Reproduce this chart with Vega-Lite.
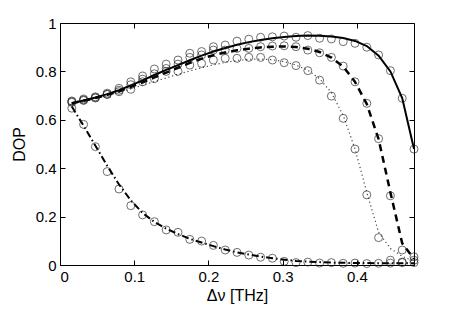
{
  "$schema": "https://vega.github.io/schema/vega-lite/v6.json",
  "width": 354,
  "height": 242,
  "autosize": "none",
  "padding": {"left": 60, "top": 23, "right": 43, "bottom": 46},
  "background": "white",
  "config": {
    "view": {"stroke": "black", "strokeWidth": 1},
    "font": "Liberation Sans",
    "axis": {"labelFont": "Liberation Sans", "titleFont": "Liberation Sans", "labelColor": "black", "titleColor": "black", "domainColor": "black", "tickColor": "black", "grid": false, "titleFontWeight": "normal"}
  },
  "datasets": {
    "solid": [
      {"x": 0.0159, "theory": 0.668, "sim": 0.678},
      {"x": 0.0318, "theory": 0.680, "sim": 0.686},
      {"x": 0.0477, "theory": 0.692, "sim": 0.695},
      {"x": 0.0636, "theory": 0.706, "sim": 0.710},
      {"x": 0.0795, "theory": 0.722, "sim": 0.730},
      {"x": 0.0954, "theory": 0.742, "sim": 0.757},
      {"x": 0.1113, "theory": 0.763, "sim": 0.781},
      {"x": 0.1272, "theory": 0.785, "sim": 0.810},
      {"x": 0.1431, "theory": 0.806, "sim": 0.830},
      {"x": 0.159, "theory": 0.826, "sim": 0.847},
      {"x": 0.1749, "theory": 0.846, "sim": 0.875},
      {"x": 0.1908, "theory": 0.865, "sim": 0.882},
      {"x": 0.2067, "theory": 0.882, "sim": 0.902},
      {"x": 0.2226, "theory": 0.897, "sim": 0.909},
      {"x": 0.2385, "theory": 0.910, "sim": 0.925},
      {"x": 0.2544, "theory": 0.921, "sim": 0.933},
      {"x": 0.2703, "theory": 0.930, "sim": 0.941},
      {"x": 0.2862, "theory": 0.937, "sim": 0.943},
      {"x": 0.3021, "theory": 0.942, "sim": 0.946},
      {"x": 0.318, "theory": 0.946, "sim": 0.941},
      {"x": 0.3339, "theory": 0.948, "sim": 0.948},
      {"x": 0.3498, "theory": 0.947, "sim": 0.937},
      {"x": 0.3657, "theory": 0.944, "sim": 0.934},
      {"x": 0.3816, "theory": 0.938, "sim": 0.923},
      {"x": 0.3975, "theory": 0.926, "sim": 0.916},
      {"x": 0.4134, "theory": 0.905, "sim": 0.900},
      {"x": 0.4293, "theory": 0.865, "sim": 0.868},
      {"x": 0.4452, "theory": 0.800, "sim": 0.803},
      {"x": 0.4611, "theory": 0.690, "sim": 0.689},
      {"x": 0.477, "theory": 0.479, "sim": 0.479}
    ],
    "dashed": [
      {"x": 0.0159, "theory": 0.668, "sim": 0.675},
      {"x": 0.0318, "theory": 0.679, "sim": 0.682},
      {"x": 0.0477, "theory": 0.690, "sim": 0.692},
      {"x": 0.0636, "theory": 0.703, "sim": 0.705},
      {"x": 0.0795, "theory": 0.718, "sim": 0.722},
      {"x": 0.0954, "theory": 0.736, "sim": 0.745},
      {"x": 0.1113, "theory": 0.755, "sim": 0.768},
      {"x": 0.1272, "theory": 0.775, "sim": 0.790},
      {"x": 0.1431, "theory": 0.795, "sim": 0.812},
      {"x": 0.159, "theory": 0.815, "sim": 0.830},
      {"x": 0.1749, "theory": 0.835, "sim": 0.858},
      {"x": 0.1908, "theory": 0.853, "sim": 0.868},
      {"x": 0.2067, "theory": 0.867, "sim": 0.888},
      {"x": 0.2226, "theory": 0.878, "sim": 0.888},
      {"x": 0.2385, "theory": 0.887, "sim": 0.895},
      {"x": 0.2544, "theory": 0.894, "sim": 0.895},
      {"x": 0.2703, "theory": 0.899, "sim": 0.902},
      {"x": 0.2862, "theory": 0.902, "sim": 0.905},
      {"x": 0.3021, "theory": 0.903, "sim": 0.906},
      {"x": 0.318, "theory": 0.901, "sim": 0.902},
      {"x": 0.3339, "theory": 0.894, "sim": 0.888},
      {"x": 0.3498, "theory": 0.880, "sim": 0.877},
      {"x": 0.3657, "theory": 0.857, "sim": 0.858},
      {"x": 0.3816, "theory": 0.820, "sim": 0.822},
      {"x": 0.3975, "theory": 0.757, "sim": 0.757},
      {"x": 0.4134, "theory": 0.665, "sim": 0.668},
      {"x": 0.4293, "theory": 0.520, "sim": 0.522},
      {"x": 0.4452, "theory": 0.300, "sim": 0.286},
      {"x": 0.4611, "theory": 0.090, "sim": 0.062},
      {"x": 0.477, "theory": 0.025, "sim": 0.034}
    ],
    "dotted": [
      {"x": 0.0159, "theory": 0.668, "sim": 0.672},
      {"x": 0.0318, "theory": 0.678, "sim": 0.680},
      {"x": 0.0477, "theory": 0.689, "sim": 0.690},
      {"x": 0.0636, "theory": 0.701, "sim": 0.705},
      {"x": 0.0795, "theory": 0.714, "sim": 0.716},
      {"x": 0.0954, "theory": 0.728, "sim": 0.726},
      {"x": 0.1113, "theory": 0.743, "sim": 0.757},
      {"x": 0.1272, "theory": 0.758, "sim": 0.770},
      {"x": 0.1431, "theory": 0.773, "sim": 0.800},
      {"x": 0.159, "theory": 0.788, "sim": 0.800},
      {"x": 0.1749, "theory": 0.802, "sim": 0.826},
      {"x": 0.1908, "theory": 0.815, "sim": 0.833},
      {"x": 0.2067, "theory": 0.827, "sim": 0.847},
      {"x": 0.2226, "theory": 0.837, "sim": 0.854},
      {"x": 0.2385, "theory": 0.845, "sim": 0.854},
      {"x": 0.2544, "theory": 0.850, "sim": 0.858},
      {"x": 0.2703, "theory": 0.851, "sim": 0.858},
      {"x": 0.2862, "theory": 0.848, "sim": 0.847},
      {"x": 0.3021, "theory": 0.840, "sim": 0.836},
      {"x": 0.318, "theory": 0.826, "sim": 0.824},
      {"x": 0.3339, "theory": 0.805, "sim": 0.803},
      {"x": 0.3498, "theory": 0.770, "sim": 0.764},
      {"x": 0.3657, "theory": 0.712, "sim": 0.698},
      {"x": 0.3816, "theory": 0.618, "sim": 0.606},
      {"x": 0.3975, "theory": 0.480, "sim": 0.479},
      {"x": 0.4134, "theory": 0.300, "sim": 0.290},
      {"x": 0.4293, "theory": 0.135, "sim": 0.113},
      {"x": 0.4452, "theory": 0.068, "sim": 0.020},
      {"x": 0.4611, "theory": 0.036, "sim": 0.012},
      {"x": 0.477, "theory": 0.015, "sim": 0.020}
    ],
    "dashdot": [
      {"x": 0.0159, "theory": 0.655, "sim": 0.648},
      {"x": 0.0318, "theory": 0.575, "sim": 0.581},
      {"x": 0.0477, "theory": 0.493, "sim": 0.489},
      {"x": 0.0636, "theory": 0.410, "sim": 0.386},
      {"x": 0.0795, "theory": 0.333, "sim": 0.314},
      {"x": 0.0954, "theory": 0.267, "sim": 0.245},
      {"x": 0.1113, "theory": 0.215, "sim": 0.207},
      {"x": 0.1272, "theory": 0.178, "sim": 0.179},
      {"x": 0.1431, "theory": 0.150, "sim": 0.145},
      {"x": 0.159, "theory": 0.128, "sim": 0.135},
      {"x": 0.1749, "theory": 0.108, "sim": 0.106},
      {"x": 0.1908, "theory": 0.093, "sim": 0.099},
      {"x": 0.2067, "theory": 0.078, "sim": 0.081},
      {"x": 0.2226, "theory": 0.064, "sim": 0.062},
      {"x": 0.2385, "theory": 0.052, "sim": 0.052},
      {"x": 0.2544, "theory": 0.043, "sim": 0.041},
      {"x": 0.2703, "theory": 0.035, "sim": 0.032},
      {"x": 0.2862, "theory": 0.028, "sim": 0.028},
      {"x": 0.3021, "theory": 0.022, "sim": 0.015},
      {"x": 0.318, "theory": 0.017, "sim": 0.010},
      {"x": 0.3339, "theory": 0.014, "sim": 0.012},
      {"x": 0.3498, "theory": 0.012, "sim": 0.008},
      {"x": 0.3657, "theory": 0.010, "sim": 0.010},
      {"x": 0.3816, "theory": 0.009, "sim": 0.007},
      {"x": 0.3975, "theory": 0.008, "sim": 0.008},
      {"x": 0.4134, "theory": 0.008, "sim": 0.006},
      {"x": 0.4293, "theory": 0.007, "sim": 0.007},
      {"x": 0.4452, "theory": 0.007, "sim": 0.008},
      {"x": 0.4611, "theory": 0.007, "sim": 0.010},
      {"x": 0.477, "theory": 0.007, "sim": 0.010}
    ]
  },
  "layer": [
    {
      "data": {"name": "dashdot"},
      "mark": {"type": "line", "color": "black", "strokeWidth": 2, "strokeDash": [7, 3, 1.5, 3], "clip": true},
      "encoding": {
        "x": {"field": "x", "type": "quantitative", "scale": {"domain": [0, 0.477], "nice": false, "zero": false},
          "axis": {"orient": "bottom", "values": [0, 0.1, 0.2, 0.3, 0.4], "format": "~g", "tickSize": -5, "labelPadding": 9, "labelFontSize": 15, "title": "Δν [THz]", "titleFontSize": 16, "titlePadding": 3, "domain": false}},
        "y": {"field": "theory", "type": "quantitative", "scale": {"domain": [0, 1], "nice": false},
          "axis": {"orient": "left", "values": [0, 0.2, 0.4, 0.6, 0.8, 1], "format": "~g", "tickSize": -5, "labelPadding": 9, "labelFontSize": 15, "title": "DOP", "titleFontSize": 16, "titlePadding": 8, "domain": false}}
      }
    },
    {
      "data": {"name": "dashdot"},
      "mark": {"type": "point", "shape": "circle", "filled": false, "stroke": "#1a1a1a", "strokeWidth": 0.9, "size": 64},
      "encoding": {
        "x": {"field": "x", "type": "quantitative", "axis": {"orient": "top", "values": [0, 0.1, 0.2, 0.3, 0.4], "tickSize": -5, "labels": false, "title": null, "domain": false}},
        "y": {"field": "sim", "type": "quantitative", "axis": {"orient": "right", "values": [0, 0.2, 0.4, 0.6, 0.8, 1], "tickSize": -5, "labels": false, "title": null, "domain": false}}
      }
    },
    {
      "data": {"name": "dotted"},
      "mark": {"type": "line", "color": "#444", "strokeWidth": 1.2, "strokeDash": [1.2, 2.8]},
      "encoding": {
        "x": {"field": "x", "type": "quantitative", "axis": null},
        "y": {"field": "theory", "type": "quantitative", "axis": null}
      }
    },
    {
      "data": {"name": "dotted"},
      "mark": {"type": "point", "shape": "circle", "filled": false, "stroke": "#1a1a1a", "strokeWidth": 0.9, "size": 64},
      "encoding": {
        "x": {"field": "x", "type": "quantitative", "axis": null},
        "y": {"field": "sim", "type": "quantitative", "axis": null}
      }
    },
    {
      "data": {"name": "dashed"},
      "mark": {"type": "line", "color": "black", "strokeWidth": 2.5, "strokeDash": [7, 5]},
      "encoding": {
        "x": {"field": "x", "type": "quantitative", "axis": null},
        "y": {"field": "theory", "type": "quantitative", "axis": null}
      }
    },
    {
      "data": {"name": "dashed"},
      "mark": {"type": "point", "shape": "circle", "filled": false, "stroke": "#1a1a1a", "strokeWidth": 0.9, "size": 64},
      "encoding": {
        "x": {"field": "x", "type": "quantitative", "axis": null},
        "y": {"field": "sim", "type": "quantitative", "axis": null}
      }
    },
    {
      "data": {"name": "solid"},
      "mark": {"type": "line", "color": "black", "strokeWidth": 2},
      "encoding": {
        "x": {"field": "x", "type": "quantitative", "axis": null},
        "y": {"field": "theory", "type": "quantitative", "axis": null}
      }
    },
    {
      "data": {"name": "solid"},
      "mark": {"type": "point", "shape": "circle", "filled": false, "stroke": "#1a1a1a", "strokeWidth": 0.9, "size": 64},
      "encoding": {
        "x": {"field": "x", "type": "quantitative", "axis": null},
        "y": {"field": "sim", "type": "quantitative", "axis": null}
      }
    }
  ],
  "resolve": {"axis": {"x": "independent", "y": "independent"}}
}
